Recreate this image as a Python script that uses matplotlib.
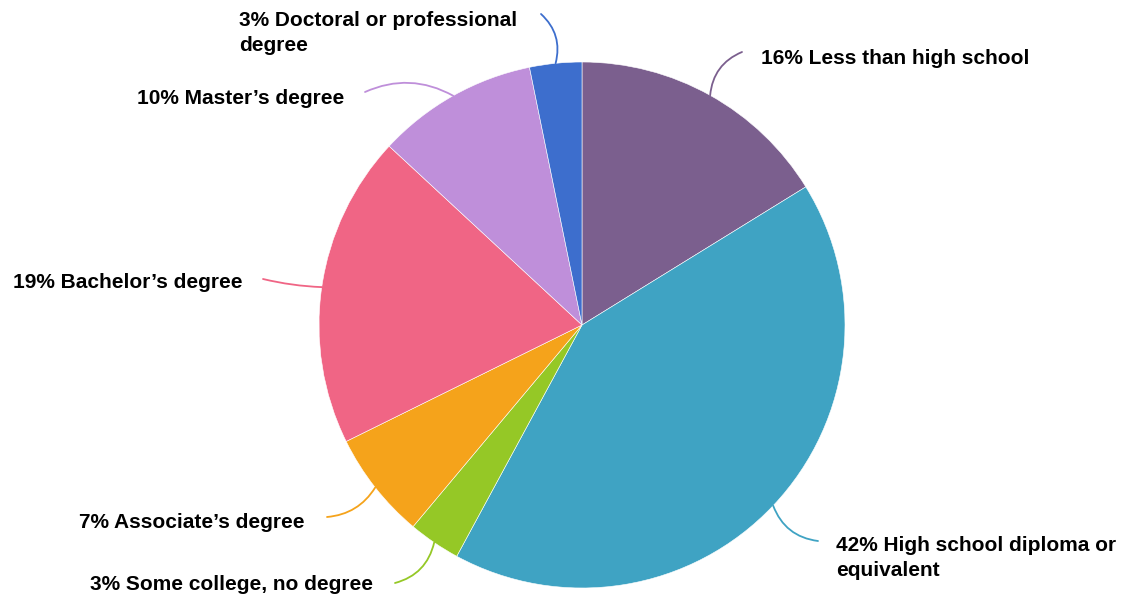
import numpy as np
import matplotlib
matplotlib.use('Agg')
import matplotlib.pyplot as plt

plt.rcParams['font.family'] = ['Liberation Sans', 'DejaVu Sans']

categories = ['Less than high school', 'High school diploma or\nequivalent',
              'Some college, no degree', 'Associate\u2019s degree',
              'Bachelor\u2019s degree', 'Master\u2019s degree',
              'Doctoral or professional\ndegree']
shares = [16.2, 41.7, 3.2, 6.6, 19.2, 9.9, 3.2]
pct_labels = ['16%', '42%', '3%', '7%', '19%', '10%', '3%']
colors = ['#7b5f8e', '#3fa3c3', '#95c826', '#f5a31b', '#f06585', '#bf8fda', '#3d6ecd']

# label placement in pixels: (line end x, y, text x, text y, ha, rad)
W, H = 1125, 601
cx, cy, R = 582, 325, 263
place = [
    (742, 52, 761, 58, 'left', 0.3),
    (818, 541, 836, 558, 'left', -0.3),
    (395, 583, 373, 585, 'right', 0.3),
    (327, 517, 304, 522, 'right', 0.25),
    (263, 279, 242, 283, 'right', 0.05),
    (365, 92, 344, 98, 'right', -0.25),
    (541, 14, 239, 33, 'left', -0.3),
]


def px(x, y):
    return (x - cx) / R, (cy - y) / R


fig = plt.figure(figsize=(W / 100, H / 100), dpi=100)
ax = fig.add_axes([0, 0, 1, 1])
wedges, _ = ax.pie(shares, colors=colors, startangle=90, counterclock=False,
                   radius=1, center=(0, 0),
                   wedgeprops=dict(edgecolor='white', linewidth=0.4))
ax.set_xlim(-cx / R, (W - cx) / R)
ax.set_ylim(-(H - cy) / R, cy / R)
ax.axis('off')

for w, cat, pct, col, p in zip(wedges, categories, pct_labels, colors, place):
    mid = np.deg2rad((w.theta1 + w.theta2) / 2)
    inner = (np.cos(mid), np.sin(mid))
    lx, ly, tx, ty, ha, rad = p
    ax.annotate('', xy=inner, xytext=px(lx, ly),
                arrowprops=dict(arrowstyle='-', color=col, lw=1.3,
                                shrinkA=0, shrinkB=0,
                                connectionstyle='arc3,rad=%s' % rad))
    ax.text(*px(tx, ty), pct + ' ' + cat, ha=ha, va='center',
            multialignment='left', fontsize=15, fontweight='bold',
            linespacing=1.4, color='#000000')

fig.savefig('out.png', dpi=100)
